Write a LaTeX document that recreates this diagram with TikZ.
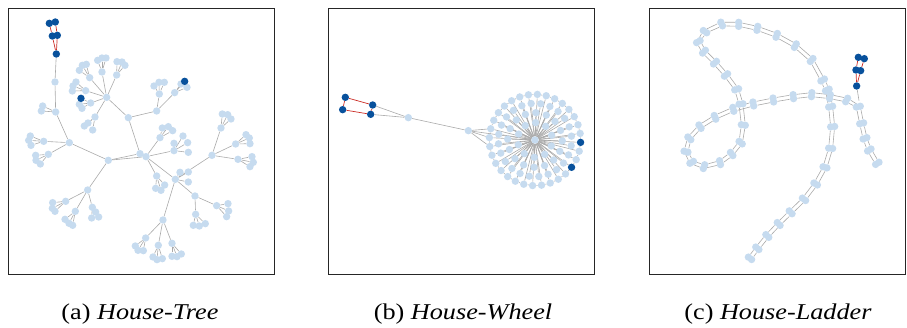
\documentclass[tikz,border=0pt]{standalone}
\usepackage{fontspec}
\setmainfont{Liberation Serif}
\usetikzlibrary{calc}
\definecolor{nodelight}{RGB}{198,219,239}
\definecolor{nodedark}{RGB}{8,81,156}
\definecolor{motifred}{RGB}{203,45,38}
\definecolor{edgegray}{RGB}{170,170,170}
\pgfdeclarelayer{edges}
\pgfsetlayers{edges,main}

\begin{document}
\begin{tikzpicture}[x=1pt, y=-1pt,
  lnode/.style={circle, fill=nodelight, inner sep=0pt, minimum size=7.4pt},
  dnode/.style={circle, fill=nodedark, inner sep=0pt, minimum size=7.4pt},
  gline/.style={draw=edgegray, line width=0.6pt},
  rline/.style={draw=motifred, line width=0.7pt},
  panel/.style={draw=black!85, line width=0.8pt},
  caption/.style={font=\fontsize{22.6}{27}\selectfont, anchor=base}]
\useasboundingbox (0,0) rectangle (907,327);

% frames
\draw[panel] (8,8) rectangle (274,274);
\draw[panel] (328,8) rectangle (594,274);
\draw[panel] (649,8) rectangle (905.5,274);

% (a) house-tree
\begin{scope}[x=0.3333pt, y=-0.3333pt]
\foreach \n/\px/\py in {r1/165/246, r2/167/336, r2a/128/318, r2b/124/333, r3/208/428,
    r4/131/424, r4a/91/408, r4b/86/421, r4c/93/436,
    r5/145/463, r5a/107/466, r5b/108/481, r5c/121/492,
    c0/325/481, d0/263/570,
    d1/197/604, d1a/158/608, d1b/157/625, d1c/165/634,
    d2/226/634, d2a/195/658, d2b/207/670, d2c/218/676,
    d3/277/622, d3a/287/636, d3b/275/654, d3c/296/651,
    f1/420/461, f2/438/470, g0/385/353, t0/320/292,
    t1/269/233, t1a/238/211, t1b/247/196, t1c/259/193,
    t2/306/216, t2a/293/181, t2b/306/174, t2c/318/174,
    t3/350/225, t3a/351/185, t3b/366/186, t3c/375/196,
    t4/257/272, t4a/228/246, t4b/219/258, t4c/217/273,
    t5/272/309, t5b/238/313, t5c/246/325,
    t6/285/351, t6a/264/369, t6b/253/378, t6c/278/390,
    k0/470/333, k1/478/282, k1a/462/258, k1b/477/247, k1c/493/247,
    k2/524/278, k2b/561/262, k2c/543/252,
    p1/480/413, p1a/487/384, p1b/505/380, p1c/518/392,
    p2/522/452, p2a/522/430, p2b/549/408, p2c/563/428, p2d/565/457,
    m0/526/538, m0a/540/517, m0b/565/516, m0c/565/546,
    n0/585/588, n1/650/617, n1a/684/611, n1b/686/633, n1c/680/650,
    n2/587/643, n2a/580/676, n2b/598/678, n2c/616/671,
    o0/489/660, o1/437/714, o1a/406/738, o1b/414/751, o1c/430/752,
    o2/475/736, o2a/459/771, o2b/471/779, o2c/487/776,
    o3/516/730, o3a/516/769, o3b/531/770, o3c/544/762,
    q0/636/466, q1/663/384, q1a/667/342, q1b/683/344, q1c/693/357,
    q2/707/432, q2a/738/404, q2b/748/414, q2c/750/431,
    q3/714/478, q3a/756/470, q3b/760/487, q3c/750/500,
    s0/470/528, s0a/467/565, s0b/483/571, s0c/494/555}
  \node[lnode] (\n) at (\px,\py) {};
\foreach \n/\px/\py in {h1/148/70, h2/166/66, h3/157/108, h4/172/106, h5/169/162,
    t5a/243/295, k2a/554/244}
  \node[dnode] (\n) at (\px,\py) {};
\begin{pgfonlayer}{edges}
\foreach \p in {r4,r5,d1,d2,d3,t1,t2,t3,t4,t5,t6,k1,k2,p1,p2,m0,n1,n2,o1,o2,o3,q1,q2,q3,s0}
  \foreach \s in {a,b,c}
    \draw[gline] (\p) -- (\p\s);
\foreach \u/\v in {h5/r1, r1/r2, r2/r2a, r2/r2b, r2/r3, r3/r4, r3/r5, r3/c0, c0/d0,
    d0/d1, d0/d2, d0/d3, c0/f1, c0/f2, f1/f2, f1/g0, g0/t0, g0/k0,
    t0/t1, t0/t2, t0/t3, t0/t4, t0/t5, t0/t6, k0/k1, k0/k2,
    f2/p1, f2/p2, p2/p2d, f2/m0, f2/s0, m0/n0, m0/o0, n0/n1, n0/n2,
    o0/o1, o0/o2, o0/o3, m0/q0, q0/q1, q0/q2, q0/q3}
  \draw[gline] (\u) -- (\v);
\foreach \u/\v in {h1/h2, h1/h3, h2/h4, h3/h4, h3/h5, h4/h5}
  \draw[rline] (\u) -- (\v);
\end{pgfonlayer}
\end{scope}

% (b) house-wheel
\begin{scope}[xshift=320pt, x=0.3333pt, y=-0.3333pt]
\node[lnode] (w0) at (645,420) {};
\foreach \i in {0,...,31} {
  \ifnum\i=0 \def\st{dnode}\else\ifnum\i=3 \def\st{dnode}\else\def\st{lnode}\fi\fi
  \node[\st] (wo\i) at ([shift={(\i*11.25+3:137)}]645,420) {};
}
\foreach \i in {0,...,23}
  \node[lnode] (wm\i) at ([shift={(\i*15+9:110)}]645,420) {};
\foreach \i in {0,...,15}
  \node[lnode] (wn\i) at ([shift={(\i*22.5+2:82)}]645,420) {};
\foreach \i in {0,...,9}
  \node[lnode] (wi\i) at ([shift={(\i*36+20:52)}]645,420) {};
\foreach \n/\px/\py in {b1/76/292, b2/158/315, b3/68/329, b4/152/343}
  \node[dnode] (\n) at (\px,\py) {};
\node[lnode] (bm) at (265,353) {};
\node[lnode] (bc) at (445,392) {};
\begin{pgfonlayer}{edges}
\foreach \i [evaluate=\i as \j using {int(mod(\i+1,32))}] in {0,...,31} {
  \draw[gline] (w0) -- (wo\i);
  \draw[gline] (wo\i) -- (wo\j);
}
\foreach \i in {0,...,23} \draw[gline] (w0) -- (wm\i);
\foreach \i in {0,...,15} \draw[gline] (w0) -- (wn\i);
\foreach \i in {0,...,9} \draw[gline] (w0) -- (wi\i);
\foreach \u/\v in {b2/bm, b4/bm, bm/bc, bc/w0, bc/wo15, bc/wo16, bc/wo17}
  \draw[gline] (\u) -- (\v);
\foreach \u/\v in {b1/b2, b3/b4, b1/b3, b2/b4}
  \draw[rline] (\u) -- (\v);
\end{pgfonlayer}
\end{scope}

% (c) house-ladder
\begin{scope}[xshift=640pt, x=0.3333pt, y=-0.3333pt]
\foreach \cx/\cy [count=\k] in {330/775, 352/745, 382/708, 416/672, 452/637,
    492/598, 527/552, 555/502, 572/445, 578/380, 572/320, 562/270,
    548/240, 515/180, 466/137, 410/106, 352/85, 296/73, 245/72,
    195/95, 175/125, 192/155, 225/188, 258/225, 290/268, 303/312,
    310/375, 302/428, 275/462, 240/488, 192/500, 155/487, 138/455,
    148/415, 180/380, 225/352, 280/328, 340/312, 400/300, 460/290,
    515/284, 570/290, 620/300, 655/320, 665/370, 675/415, 688/450,
    712/490, 725/510}
  \coordinate (cp\k) at (\cx,\cy);
\foreach \k [evaluate=\k as \j using int(\k+1)] in {1,...,48} {
  \node[lnode] (cu\k) at ($(cp\k)!2pt!90:(cp\j)$) {};
  \node[lnode] (cd\k) at ($(cp\k)!2pt!-90:(cp\j)$) {};
}
\foreach \n/\px/\py in {e1/655/172, e2/673/176, e3/648/210, e4/662/212, e5/650/258}
  \node[dnode] (\n) at (\px,\py) {};
\coordinate (cj) at (657,302);
\begin{pgfonlayer}{edges}
\foreach \k in {1,...,48} \draw[gline] (cu\k) -- (cd\k);
\foreach \k [evaluate=\k as \j using int(\k+1)] in {1,...,47} {
  \draw[gline] (cu\k) -- (cu\j);
  \draw[gline] (cd\k) -- (cd\j);
}
\draw[gline] (e5) -- (cj);
\foreach \u/\v in {e1/e2, e1/e3, e2/e4, e3/e4, e3/e5, e4/e5}
  \draw[rline] (\u) -- (\v);
\end{pgfonlayer}
\end{scope}

% captions
\node[caption] (capa) at (140,319) {\scalebox{1.16}[1]{(a) \textit{House-Tree}}};
\node[caption] (capb) at (463,319) {\scalebox{1.16}[1]{(b) \textit{House-Wheel}}};
\node[caption] (capc) at (778,319) {\scalebox{1.16}[1]{(c) \textit{House-Ladder}}};
\end{tikzpicture}
\end{document}
